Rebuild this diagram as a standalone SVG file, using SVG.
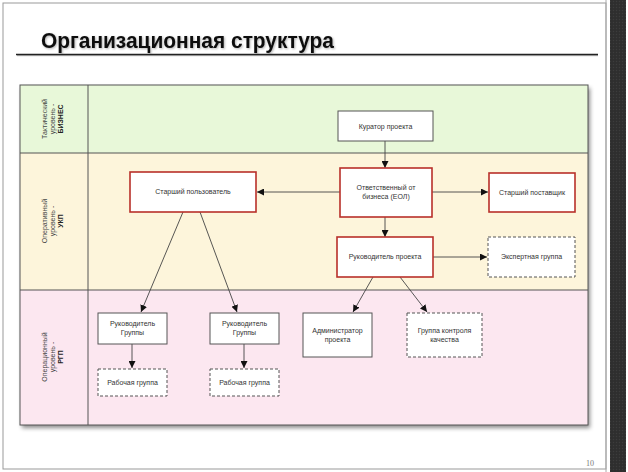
<svg xmlns="http://www.w3.org/2000/svg" width="628" height="472" viewBox="0 0 628 472">
<style>
.lbl{font-family:"Liberation Sans",Arial,sans-serif;font-size:7px;fill:#333;text-anchor:middle}
.lvl{font-family:"Liberation Sans",Arial,sans-serif;font-size:7px;fill:#444;text-anchor:middle}
.b{font-weight:bold;fill:#222}
.box{fill:#fff;stroke:#555;stroke-width:1}
.red{fill:#fff;stroke:#B8302A;stroke-width:1.6}
.dash{fill:#fff;stroke:#555;stroke-width:1;stroke-dasharray:3,2}
.con{stroke:#444;stroke-width:0.9;fill:none;marker-end:url(#arr)}
</style>
<defs>
<marker id="arr" viewBox="0 0 10 10" refX="10" refY="5" markerWidth="7" markerHeight="7" orient="auto" markerUnits="userSpaceOnUse">
<path d="M0,0 L10,5 L0,10 z" fill="#111"/>
</marker>
<filter id="sh" x="-5%" y="-5%" width="110%" height="115%">
<feDropShadow dx="2" dy="3" stdDeviation="2" flood-color="#000" flood-opacity="0.45"/>
</filter>
<filter id="tsh" x="-5%" y="-20%" width="110%" height="150%">
<feDropShadow dx="1" dy="1" stdDeviation="0.8" flood-color="#000" flood-opacity="0.3"/>
</filter>
<pattern id="tex" width="3" height="3" patternUnits="userSpaceOnUse">
<rect width="3" height="3" fill="#2e2e2e"/>
<circle cx="1.5" cy="1.5" r="0.7" fill="#3c3c3c"/>
</pattern>
</defs>
<rect width="628" height="472" fill="#fff"/>
<!-- page frame -->
<rect x="3" y="3" width="603" height="466" fill="#fff" stroke="#999" stroke-width="1"/>
<line x1="606" y1="0" x2="606" y2="472" stroke="#aaa" stroke-width="1"/>
<rect x="610" y="0" width="16" height="472" fill="url(#tex)"/>
<!-- title -->
<g id="title">
<text x="41" y="48" font-family="Liberation Sans, Arial, sans-serif" font-size="22" font-weight="bold" fill="#111" textLength="293" lengthAdjust="spacingAndGlyphs" filter="url(#tsh)">Организационная структура</text>
<rect x="17" y="55" width="581" height="1.2" fill="#bbb"/>
<line x1="16" y1="54.5" x2="598" y2="54.5" stroke="#222" stroke-width="1.6"/>
</g>
<!-- table -->
<g id="table">
<rect x="20" y="85" width="568" height="340" fill="#fff" filter="url(#sh)"/>
<rect x="20" y="85" width="568" height="68" fill="#E8F8D9"/>
<rect x="20" y="153" width="568" height="137" fill="#FDF5DB"/>
<rect x="20" y="290" width="568" height="135" fill="#FCE7F0"/>
<rect x="20" y="85" width="568" height="340" fill="none" stroke="#555" stroke-width="1"/>
<line x1="20" y1="153" x2="588" y2="153" stroke="#555" stroke-width="1"/>
<line x1="20" y1="290" x2="588" y2="290" stroke="#555" stroke-width="1"/>
<line x1="88" y1="85" x2="88" y2="425" stroke="#555" stroke-width="1"/>
</g>
<g id="lvl1" transform="translate(54,119) rotate(-90)">
<text class="lvl" x="0" y="-7">Тактический</text>
<text class="lvl" x="0" y="1">уровень -</text>
<text class="lvl b" x="0" y="9">БИЗНЕС</text>
</g>
<g id="lvl2" transform="translate(54,221) rotate(-90)">
<text class="lvl" x="0" y="-7">Оперативный</text>
<text class="lvl" x="0" y="1">уровень -</text>
<text class="lvl b" x="0" y="9">УКП</text>
</g>
<g id="lvl3" transform="translate(54,357) rotate(-90)">
<text class="lvl" x="0" y="-7">Операционный</text>
<text class="lvl" x="0" y="1">уровень -</text>
<text class="lvl b" x="0" y="9">РГП</text>
</g>
<!-- connectors -->
<g id="connectors">
<line class="con" x1="385" y1="141" x2="385" y2="168"/>
<line class="con" x1="340" y1="192" x2="257" y2="192"/>
<line class="con" x1="432" y1="192" x2="488" y2="192"/>
<line class="con" x1="385" y1="217" x2="385" y2="237"/>
<line class="con" x1="433" y1="257" x2="487" y2="257"/>
<line class="con" x1="373" y1="277" x2="353" y2="312"/>
<line class="con" x1="400" y1="277" x2="427" y2="312"/>
<line class="con" x1="183" y1="212" x2="141" y2="312"/>
<line class="con" x1="200" y1="212" x2="237" y2="312"/>
<line class="con" x1="132" y1="344" x2="132" y2="368"/>
<line class="con" x1="244" y1="344" x2="244" y2="368"/>
</g>
<!-- nodes -->
<g id="kurator"><rect class="box" x="338" y="111" width="95" height="30"/><text class="lbl" x="385.5" y="128.5">Куратор проекта</text></g>
<g id="eol"><rect class="red" x="340" y="168" width="92" height="49"/><text class="lbl" x="386" y="190">Ответственный от</text><text class="lbl" x="386" y="199">бизнеса (ЕОЛ)</text></g>
<g id="supplier"><rect class="red" x="489" y="173" width="86" height="39"/><text class="lbl" x="532" y="194.5">Старший поставщик</text></g>
<g id="user"><rect class="red" x="130" y="172" width="126" height="40"/><text class="lbl" x="193" y="194">Старший пользователь</text></g>
<g id="pm"><rect class="red" x="337" y="237" width="96" height="40"/><text class="lbl" x="385" y="259">Руководитель проекта</text></g>
<g id="expert"><rect class="dash" x="488" y="237" width="87" height="40"/><text class="lbl" x="531.5" y="259">Экспертная группа</text></g>
<g id="admin"><rect class="box" x="303" y="313" width="69" height="44"/><text class="lbl" x="337.5" y="333">Администратор</text><text class="lbl" x="337.5" y="342">проекта</text></g>
<g id="qc"><rect class="dash" x="407" y="313" width="75" height="44"/><text class="lbl" x="444.5" y="333">Группа контроля</text><text class="lbl" x="444.5" y="342">качества</text></g>
<g id="lead1"><rect class="box" x="98" y="313" width="69" height="31"/><text class="lbl" x="132.5" y="326">Руководитель</text><text class="lbl" x="132.5" y="335">Группы</text></g>
<g id="lead2"><rect class="box" x="210" y="313" width="69" height="31"/><text class="lbl" x="244.5" y="326">Руководитель</text><text class="lbl" x="244.5" y="335">Группы</text></g>
<g id="work1"><rect class="dash" x="98" y="369" width="69" height="27"/><text class="lbl" x="132.5" y="385">Рабочая группа</text></g>
<g id="work2"><rect class="dash" x="210" y="369" width="69" height="27"/><text class="lbl" x="244.5" y="385">Рабочая группа</text></g>
<text x="586" y="466" font-family="Liberation Serif, serif" font-size="8" fill="#777">10</text>
</svg>
